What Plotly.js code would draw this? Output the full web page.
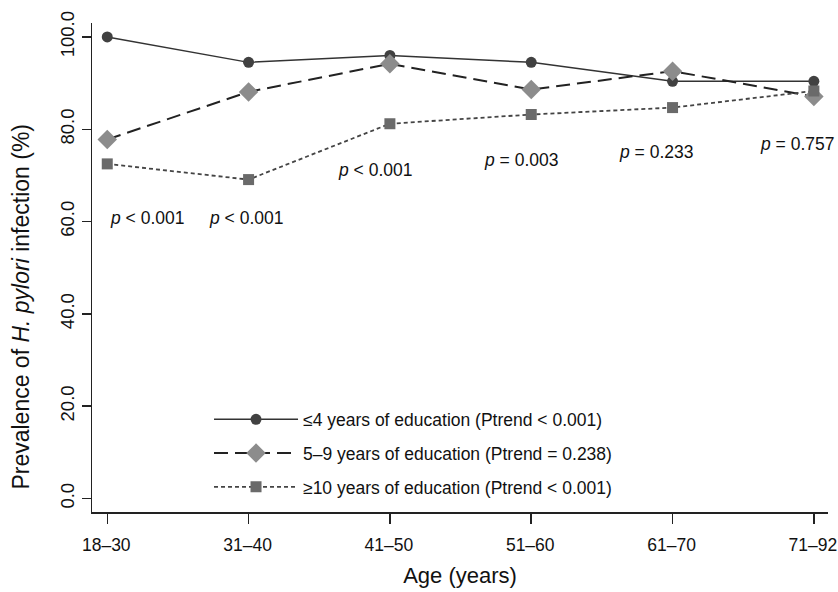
<!DOCTYPE html>
<html>
<head>
<meta charset="utf-8">
<script src="https://cdn.plot.ly/plotly-3.0.1.min.js"></script>
<style>html,body{margin:0;padding:0;background:#fff;}#chart{width:838px;height:592px;}</style>
</head>
<body>
<div id="chart"></div>
<script>
const ageGroups = ["18\u201330", "31\u201340", "41\u201350", "51\u201360", "61\u201370", "71\u201392"];
const eduLow = [100.0, 94.5, 96.0, 94.5, 90.4, 90.4];
const eduMid = [77.8, 88.1, 94.2, 88.6, 92.6, 87.1];
const eduHigh = [72.5, 69.1, 81.2, 83.2, 84.7, 88.3];
const seriesNames = [
  "\u22644 years of education (Ptrend < 0.001)",
  "5\u20139 years of education (Ptrend = 0.238)",
  "\u226510 years of education (Ptrend < 0.001)"
];
const pLabels = ["<i>p</i> < 0.001", "<i>p</i> < 0.001", "<i>p</i> < 0.001", "<i>p</i> = 0.003", "<i>p</i> = 0.233", "<i>p</i> = 0.757"];
const pLabelX = [0.28, 0.98, 1.895, 2.93, 3.88, 4.88];
const pLabelY = [60.8, 60.8, 71.2, 73.3, 75.1, 76.8];
const yTicks = [0, 20, 40, 60, 80, 100];
const yTitle = "Prevalence of <i>H. pylori</i> infection (%)";
const xTitle = "Age (years)";

const font = "Liberation Sans, Arial, sans-serif";

const traces = [
  {x: ageGroups, y: eduLow, name: seriesNames[0], type: "scatter", mode: "lines+markers", legendgroup: "a",
   line: {color: "#333333", width: 1.5, dash: "solid"},
   marker: {symbol: "circle", size: 11, color: "#414141"}},
  {x: ageGroups, y: eduMid, name: seriesNames[1], type: "scatter", mode: "lines+markers", legendgroup: "b",
   line: {color: "#222222", width: 2, dash: "14px,7px"},
   marker: {symbol: "diamond", size: 15, color: "#8c8c8c"}},
  {x: ageGroups, y: eduHigh, name: seriesNames[2], type: "scatter", mode: "lines+markers", legendgroup: "c",
   line: {color: "#444444", width: 1.8, dash: "4px,3px"},
   marker: {symbol: "square", size: 11, color: "#6a6a6a"}}
];

const annotations = pLabels.map((t, i) => ({
  x: pLabelX[i], y: pLabelY[i], xref: "x", yref: "y", text: t, showarrow: false,
  font: {family: font, size: 17.5, color: "#111"}
}));
annotations.push({
  x: -0.0965, y: 0.42, xref: "paper", yref: "paper", xanchor: "center", yanchor: "middle",
  text: yTitle, textangle: -90, showarrow: false,
  font: {family: font, size: 23, color: "#111"}
});

const layout = {
  width: 838, height: 592,
  margin: {l: 92, r: 10, t: 23, b: 80},
  paper_bgcolor: "#fff", plot_bgcolor: "#fff",
  font: {family: font, size: 18, color: "#111"},
  showlegend: true,
  legend: {x: 0.159, y: 0.226, xanchor: "left", yanchor: "top", bgcolor: "rgba(0,0,0,0)",
           font: {family: font, size: 17.5, color: "#111"}, itemwidth: 84, tracegroupgap: 8,
           traceorder: "grouped"},
  xaxis: {type: "category", range: [-0.108, 5.1], showgrid: false, zeroline: false,
          showline: true, linecolor: "#222", linewidth: 1.5, ticks: "outside", ticklen: 10,
          tickwidth: 1.5, tickcolor: "#222", tickfont: {family: font, size: 17.5, color: "#111"},
          ticklabelstandoff: 6, ticklabelshift: -1,
          title: {text: xTitle, font: {family: font, size: 22, color: "#111"}, standoff: 14}},
  yaxis: {range: [-2.93, 103.03], showgrid: false, zeroline: false, tickvals: yTicks,
          tickformat: ".1f", tickangle: -90,
          showline: true, linecolor: "#222", linewidth: 1.5, ticks: "outside", ticklen: 9,
          tickwidth: 1.5, tickcolor: "#222", tickfont: {family: font, size: 18.5, color: "#111"}},
  annotations: annotations
};

Plotly.newPlot("chart", traces, layout, {displayModeBar: false, staticPlot: true});
</script>
</body>
</html>
